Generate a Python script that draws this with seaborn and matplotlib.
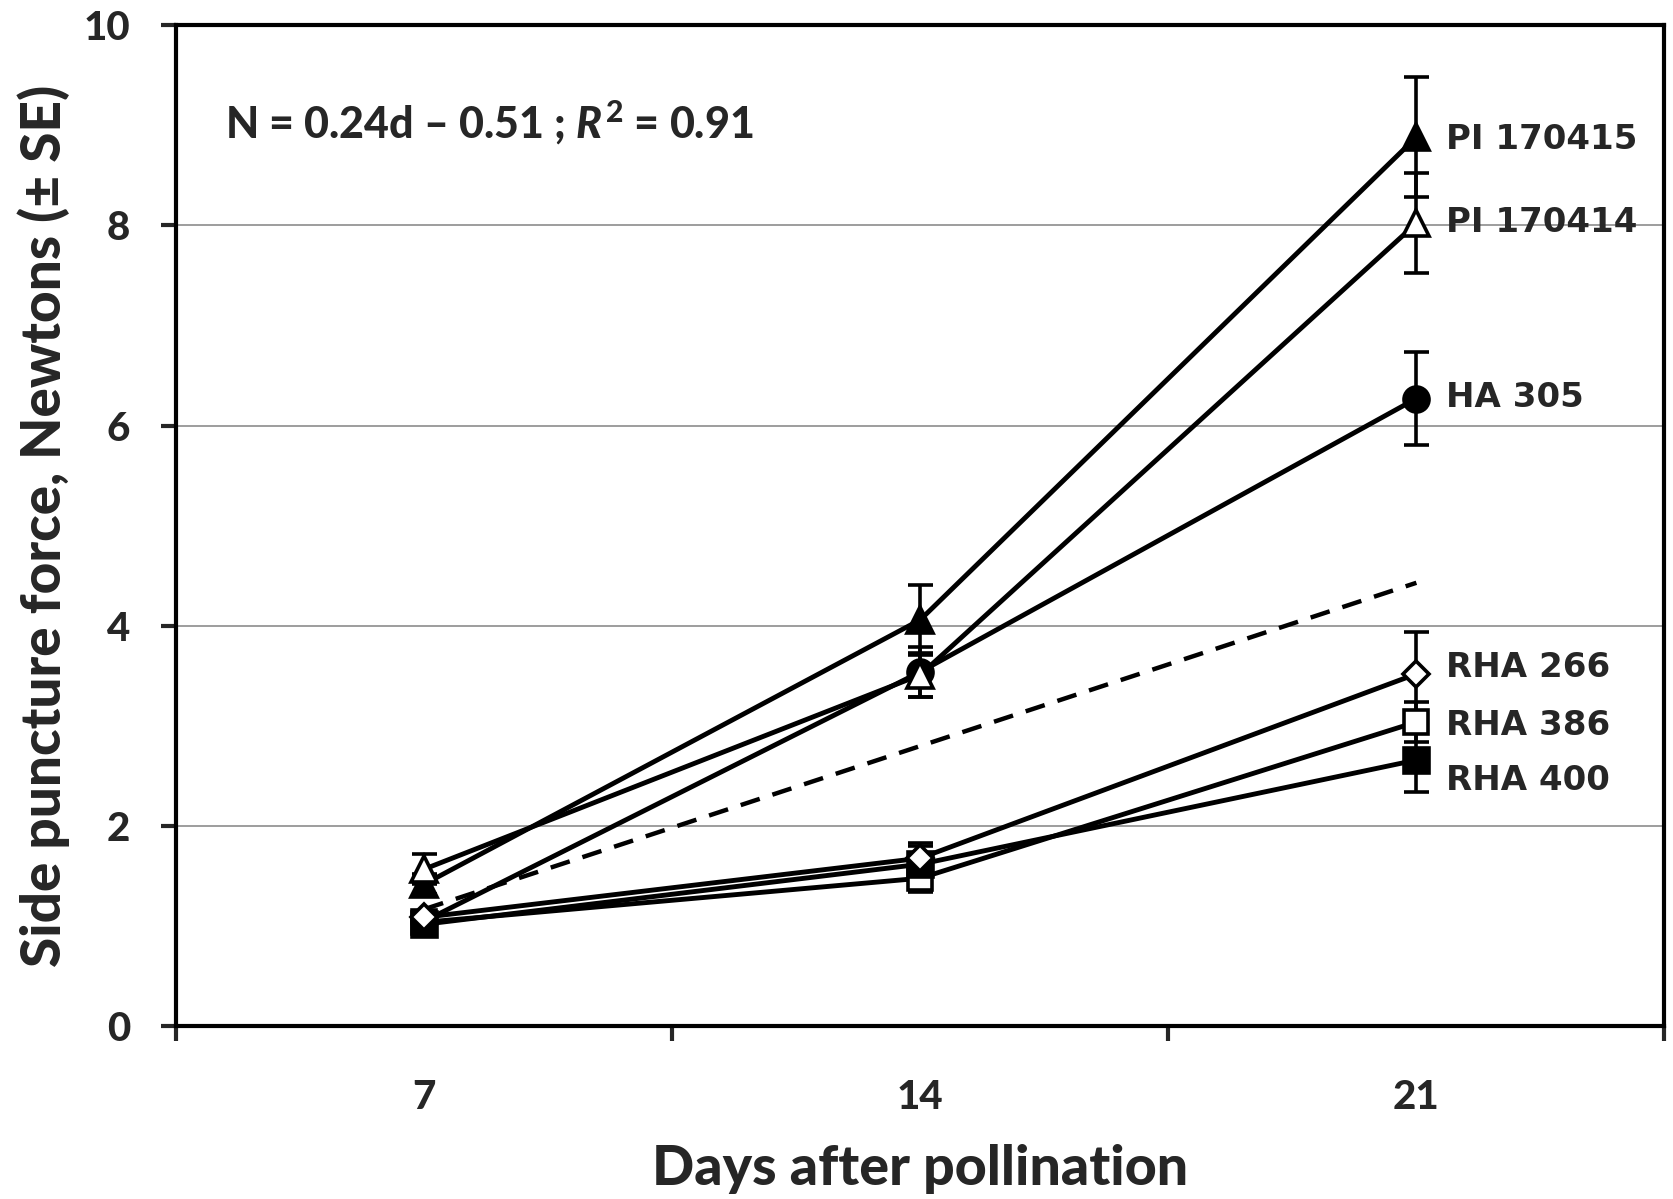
import matplotlib
matplotlib.use('Agg')
import matplotlib.pyplot as plt
import seaborn as sns
import pandas as pd

# days after pollination and mean side puncture force (N) per line
days = [7, 14, 21]
pi170415 = [1.42, 4.06, 8.88]
pi170414 = [1.57, 3.51, 8.02]
ha305 = [1.05, 3.54, 6.27]
rha266 = [1.09, 1.68, 3.52]
rha386 = [1.04, 1.48, 3.04]
rha400 = [1.02, 1.62, 2.66]

# standard errors
se_pi170415 = [0.10, 0.35, 0.60]
se_pi170414 = [0.15, 0.22, 0.50]
se_ha305 = [0.06, 0.25, 0.46]
se_rha266 = [0.05, 0.15, 0.42]
se_rha386 = [0.05, 0.14, 0.20]
se_rha400 = [0.05, 0.18, 0.32]

# regression line (N = 0.24d - 0.51) end points as drawn
trend_days = [7, 21]
trend_vals = [1.17, 4.43]

# drawing order (later series sit on top)
names = ['HA 305', 'PI 170415', 'PI 170414', 'RHA 386', 'RHA 400', 'RHA 266']
means = [ha305, pi170415, pi170414, rha386, rha400, rha266]
ses = [se_ha305, se_pi170415, se_pi170414, se_rha386, se_rha400, se_rha266]

rows = []
for name, m, s in zip(names, means, ses):
    for d, v, e in zip(days, m, s):
        rows.append({'line': name, 'day': d, 'force': v, 'se': e})
df = pd.DataFrame(rows)

sns.set_style('white')
plt.rcParams['font.family'] = ['Lato', 'DejaVu Sans']
plt.rcParams['font.weight'] = 'black'
plt.rcParams['mathtext.fontset'] = 'custom'
plt.rcParams['mathtext.rm'] = 'Lato:black'
plt.rcParams['mathtext.it'] = 'Lato:italic:black'

styles = {
    'PI 170415': dict(marker='^', mfc='black', ms=19),
    'PI 170414': dict(marker='^', mfc='white', ms=19),
    'HA 305': dict(marker='o', mfc='black', ms=18),
    'RHA 266': dict(marker='D', mfc='white', ms=13),
    'RHA 386': dict(marker='s', mfc='white', ms=17),
    'RHA 400': dict(marker='s', mfc='black', ms=18),
}
label_y = {'PI 170415': 8.86, 'PI 170414': 8.03, 'HA 305': 6.28,
           'RHA 266': 3.58, 'RHA 386': 3.01, 'RHA 400': 2.46}

fig, ax = plt.subplots(figsize=(16.73, 11.99), dpi=100)
fig.subplots_adjust(left=0.1052, right=0.9949, top=0.9792, bottom=0.1439)

for y in [2, 4, 6, 8]:
    ax.axhline(y, color='#8c8c8c', lw=1.2, zorder=0)

for name in names:
    sub = df[df['line'] == name]
    ax.errorbar(sub['day'], sub['force'], yerr=sub['se'], fmt='none',
                ecolor='black', elinewidth=2.6, capsize=9, capthick=2.6, zorder=2)

for i, name in enumerate(names):
    sub = df[df['line'] == name]
    st = styles[name]
    sns.lineplot(data=sub, x='day', y='force', ax=ax, color='black', lw=3.5,
                 marker=st['marker'], markersize=st['ms'], markerfacecolor=st['mfc'],
                 markeredgecolor='black', markeredgewidth=2.6, zorder=3 + i * 0.1)
    ax.text(21.42, label_y[name], name, family='DejaVu Sans', fontweight='bold',
            fontsize=24.5, va='center', ha='left')

sns.lineplot(x=trend_days, y=trend_vals, ax=ax, color='black', lw=3.2,
             linestyle=(0, (4.5, 3)), zorder=1)

ax.text(0.033, 0.902, r'N = 0.24d – 0.51 ; $\mathit{R}^{\mathrm{2}}$ = 0.91',
        transform=ax.transAxes, fontsize=31, fontweight='black', va='center')

ax.set_xlim(3.5, 24.5)
ax.set_ylim(0, 10)
ax.set_xticks(days)
ax.set_xticklabels([str(d) for d in days])
ax.set_xticks([3.5, 10.5, 17.5, 24.5], minor=True)
ax.set_yticks([0, 2, 4, 6, 8, 10])
ax.tick_params(axis='x', which='major', length=0, pad=38, labelsize=29)
ax.tick_params(axis='x', which='minor', length=11, width=3, direction='out', bottom=True)
ax.tick_params(axis='y', length=11, width=3, direction='out', left=True, pad=22, labelsize=29)
for lab in ax.get_xticklabels() + ax.get_yticklabels():
    lab.set_fontweight('black')

for sp in ax.spines.values():
    sp.set_linewidth(3)
    sp.set_color('black')

ax.set_xlabel('Days after pollination', fontsize=40, fontweight='black', labelpad=20)
ax.set_ylabel('Side puncture force, Newtons (± SE)', fontsize=39.5, fontweight='black', labelpad=10)

fig.savefig('out.png', dpi=100)
